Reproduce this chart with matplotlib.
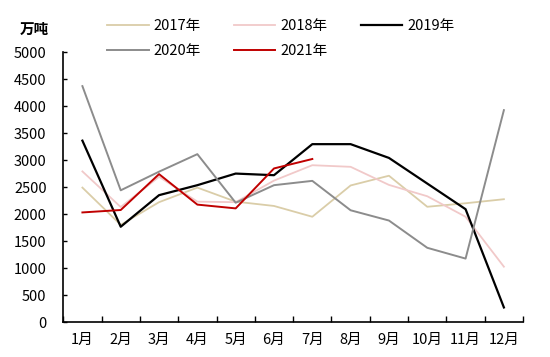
import matplotlib
matplotlib.use("Agg")
import matplotlib.pyplot as plt
import numpy as np

plt.rcParams['font.family'] = ['Noto Sans CJK SC', 'DejaVu Sans']

# ----- DATA -----
months = ["1月", "2月", "3月", "4月", "5月", "6月", "7月", "8月", "9月", "10月", "11月", "12月"]
y2017 = [2490, 1800, 2220, 2490, 2230, 2150, 1950, 2530, 2710, 2135, 2200, 2275]
y2018 = [2790, 2130, 2690, 2230, 2220, 2620, 2905, 2875, 2540, 2330, 1950, 1025]
y2019 = [3360, 1765, 2350, 2535, 2750, 2720, 3295, 3295, 3040, 2565, 2090, 270]
y2020 = [4370, 2440, 2785, 3110, 2210, 2535, 2615, 2070, 1880, 1375, 1175, 3925]
y2021 = [2030, 2075, 2740, 2175, 2105, 2845, 3020]

series = [
    ("2017年", y2017, "#DACDA8", 1.3),
    ("2018年", y2018, "#F1C9C9", 1.3),
    ("2019年", y2019, "#000000", 1.6),
    ("2020年", y2020, "#8C8C8C", 1.4),
    ("2021年", y2021, "#C00000", 1.4),
]

# ----- PLOT -----
fig = plt.figure(figsize=(5.5, 3.57), dpi=100)
ax = fig.add_axes([0.115, 0.098, 0.836, 0.756])

x = np.arange(len(months))
lines = {}
for label, vals, color, lw in series:
    lines[label], = ax.plot(x[:len(vals)], vals, color=color, linewidth=lw, label=label)

ax.set_xlim(-0.5, len(months) - 0.5)
ax.set_ylim(0, 5000)
ax.set_yticks(np.arange(0, 5001, 500))

# ticks between categories, labels at centres
ax.set_xticks(np.arange(-0.5, len(months), 1.0))
ax.set_xticklabels([])
ax.set_xticks(x, minor=True)
ax.set_xticklabels(months, minor=True)
ax.tick_params(axis="x", which="major", direction="in", length=4, width=1)
ax.tick_params(axis="x", which="minor", length=0, pad=8, labelsize=10.5)
ax.tick_params(axis="y", direction="in", length=3, width=1, pad=12, labelsize=10.5)

for s in ["top", "right"]:
    ax.spines[s].set_visible(False)
for s in ["left", "bottom"]:
    ax.spines[s].set_linewidth(1.2)

fig.text(0.036, 0.918, "万吨", fontsize=10.5, fontweight="bold", ha="left", va="center")

# legend filled row by row: 2017 2018 2019 / 2020 2021
order = ["2017年", "2020年", "2018年", "2021年", "2019年"]
fig.legend([lines[k] for k in order], order, loc="upper left",
           bbox_to_anchor=(0.184, 0.962), borderaxespad=0, ncol=3, frameon=False,
           fontsize=10.5, handlelength=2.85, columnspacing=2.25, handletextpad=0.35,
           labelspacing=0.72)

plt.savefig("out.png", dpi=100)
